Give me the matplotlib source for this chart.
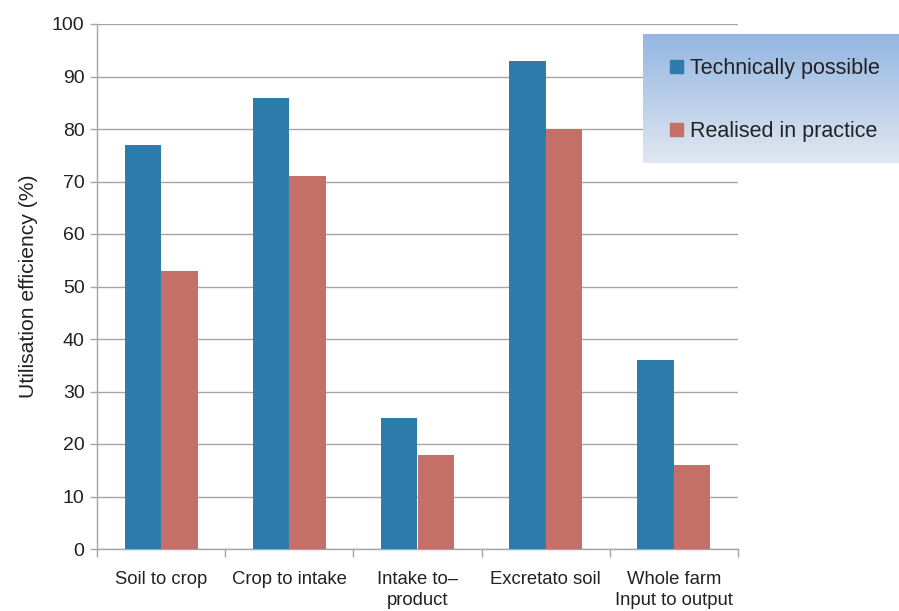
import numpy as np
import matplotlib.pyplot as plt
from matplotlib.patches import Rectangle

# donnees
categories = ["Soil to crop", "Crop to intake", "Intake to\u2013\nproduct",
              "Excretato soil", "Whole farm\nInput to output"]
technically_possible = [77, 86, 25, 93, 36]
realised_in_practice = [53, 71, 18, 80, 16]
series_names = ["Technically possible", "Realised in practice"]

blue = "#2e7cab"
red = "#c46f67"
grid_col = "#a6a6a6"

plt.rcParams['font.family'] = ['Liberation Sans', 'DejaVu Sans']

fig = plt.figure(figsize=(8.99, 6.11), dpi=100)
ax = fig.add_axes([97/899, 1-549/611, (738-97)/899, (549-24)/611])

x = np.arange(len(categories))
w = 0.285
ax.bar(x - w/2, technically_possible, w, color=blue, zorder=3)
ax.bar(x + w/2, realised_in_practice, w, color=red, zorder=3)

ax.set_xlim(-0.5, len(categories) - 0.5)
ax.set_ylim(0, 100)
ax.set_yticks(range(0, 101, 10))
ax.tick_params(axis='y', labelsize=14, labelcolor='#222222', color=grid_col,
               length=5, width=1, pad=4)
ax.yaxis.grid(True, color=grid_col, linewidth=1, zorder=0)

# ticks de l'axe x entre les categories
ax.set_xticks(np.arange(-0.5, len(categories), 1))
ax.set_xticklabels([])
ax.set_xticks(x, minor=True)
ax.set_xticklabels(categories, minor=True, fontsize=13.3, linespacing=1.3,
                   color='#222222')
ax.tick_params(axis='x', which='major', color=grid_col, length=6, width=1)
ax.tick_params(axis='x', which='minor', length=0, pad=16)

for s in ['top', 'right']:
    ax.spines[s].set_visible(False)
for s in ['left', 'bottom']:
    ax.spines[s].set_color(grid_col)
    ax.spines[s].set_linewidth(1)

ax.set_ylabel("Utilisation efficiency (%)", fontsize=15.2, labelpad=10,
              color='#222222')

# legende avec degrade
lax = fig.add_axes([643/899, 1-163/611, (899-643)/899, (163-34)/611])
top_c = np.array([0x93, 0xb6, 0xe2]) / 255.0
bot_c = np.array([0xe0, 0xe7, 0xf0]) / 255.0
t = np.linspace(0, 1, 100)[:, None]
grad = top_c[None, :] * (1 - t) + bot_c[None, :] * t
lax.imshow(grad[:, None, :], aspect='auto', extent=[0, 1, 0, 1])
lax.set_xlim(0, 1)
lax.set_ylim(0, 1)
lax.axis('off')
ys = [1 - (66-34)/129, 1 - (129-34)/129]
for yy, col, name in zip(ys, [blue, red], series_names):
    lax.add_patch(Rectangle((27/256, yy - 6.5/129), 13/256, 13/129, color=col))
    lax.text(47/256, yy, name, fontsize=15.5, va='center_baseline', ha='left',
             color='#222222')

fig.savefig("out.png", dpi=100)
